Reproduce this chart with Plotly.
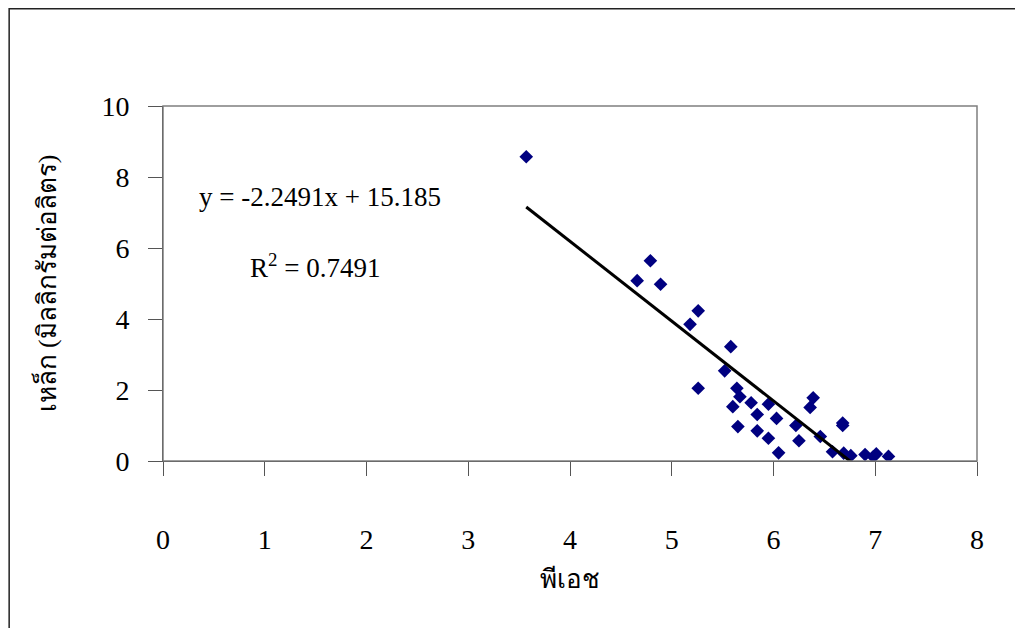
import plotly.graph_objects as go

# pH vs iron (mg/L)
ph = [3.57, 4.66, 4.79, 4.89, 5.18, 5.26, 5.26, 5.52, 5.58, 5.60, 5.64, 5.65, 5.67,
      5.78, 5.84, 5.84, 5.95, 5.95, 6.03, 6.05, 6.22, 6.25, 6.36, 6.39, 6.46,
      6.58, 6.68, 6.68, 6.69, 6.76, 6.90, 6.98, 7.01, 7.13]
iron = [8.57, 5.08, 5.64, 4.98, 3.85, 4.23, 2.05, 2.54, 3.22, 1.53, 2.05, 0.97, 1.81,
        1.64, 1.31, 0.85, 1.60, 0.64, 1.20, 0.23, 1.00, 0.57, 1.51, 1.78, 0.69,
        0.26, 1.07, 1.00, 0.22, 0.15, 0.18, 0.12, 0.20, 0.13]

slope, intercept, r2 = -2.2491, 15.185, 0.7491
x_ticks = [0, 1, 2, 3, 4, 5, 6, 7, 8]
y_ticks = [0, 2, 4, 6, 8, 10]

serif = "Liberation Serif, Times New Roman, serif"

fig = go.Figure()
fig.add_trace(go.Scatter(
    x=ph, y=iron, mode="markers",
    marker=dict(symbol="diamond", size=10.5, color="#000080"),
    showlegend=False,
))
# linear trendline over the data's x span (clipped by the axis at y=0)
x_fit = [min(ph), max(ph)]
fig.add_trace(go.Scatter(
    x=x_fit, y=[slope * x + intercept for x in x_fit], mode="lines",
    line=dict(color="black", width=3), showlegend=False,
))

axis_common = dict(
    showgrid=False, zeroline=False, showline=True, linecolor="#333333", linewidth=1,
    ticks="outside", ticklen=14, tickcolor="#555555", tickwidth=1, automargin=False,
    tickfont=dict(family=serif, size=28, color="black"),
)
fig.update_xaxes(
    range=[0, 8], tickvals=x_ticks, ticklabelstandoff=39,
    title=dict(text="พีเอช", font=dict(family=serif, size=26, color="black"), standoff=16),
    **axis_common,
)
fig.update_yaxes(
    range=[0, 10], tickvals=y_ticks, ticklabelstandoff=13,
    title=dict(text="เหล็ก (มิลลิกรัมต่อลิตร)", font=dict(family=serif, size=26, color="black"),
               standoff=37),
    **axis_common,
)

# plot-area frame (gray) and outer chart border
fig.add_shape(type="rect", xref="paper", yref="paper", x0=0, y0=0, x1=1, y1=1,
              line=dict(color="#7f7f7f", width=1.5))
fig.add_shape(type="rect", xref="paper", yref="paper", x0=-0.189, y0=-0.5, x1=1.2, y1=1.274,
              line=dict(color="#222222", width=1.5))

fig.add_annotation(x=0.042, y=0.745, xref="paper", yref="paper", xanchor="left", yanchor="middle",
                   text=f"y = {slope}x + {intercept}", showarrow=False,
                   font=dict(family=serif, size=27, color="black"))
fig.add_annotation(x=0.104, y=0.55, xref="paper", yref="paper", xanchor="left", yanchor="middle",
                   text=f"R<sup>2</sup> = {r2}", showarrow=False,
                   font=dict(family=serif, size=27, color="black"))

fig.update_layout(
    width=1023, height=628,
    margin=dict(l=155, r=54, t=98, b=175),
    paper_bgcolor="white", plot_bgcolor="white",
)
fig.write_html("out.html")
